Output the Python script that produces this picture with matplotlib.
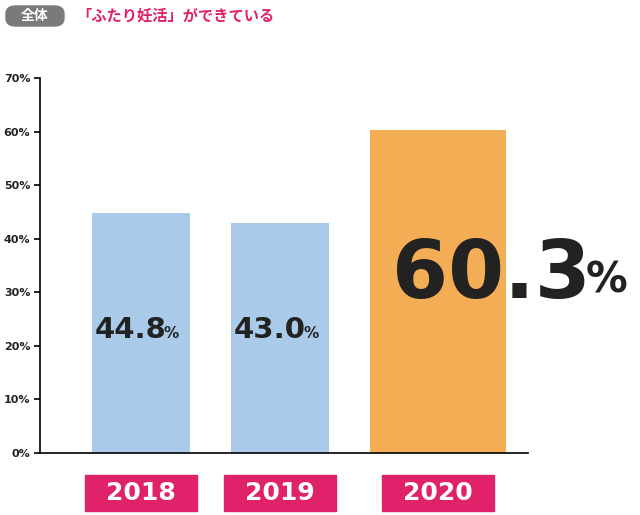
import matplotlib.pyplot as plt
from matplotlib.patches import FancyBboxPatch

years = ["2018", "2019", "2020"]
values = [44.8, 43.0, 60.3]
colors = ["#a9cbe9", "#a9cbe9", "#f3ae55"]
yticks = [0, 10, 20, 30, 40, 50, 60, 70]

PINK = "#e0226a"
NUM_FONT = "DejaVu Sans Condensed"
JP_FONT = "Noto Sans CJK JP"

fig = plt.figure(figsize=(6.4, 5.15), dpi=100)
ax = fig.add_axes([40 / 640, 1 - 453 / 515, 600 / 640, 375 / 515])
centers = [101, 240, 398]
widths = [98, 98, 136]
ax.bar(centers, values, width=widths, color=colors)
ax.set_xlim(0, 600)
ax.set_ylim(0, 70)
ax.set_yticks(yticks)
ax.set_yticklabels([f"{t}%" for t in yticks], fontsize=8, fontweight="bold", color="#222222")
ax.set_xticks([])
for s in ["top", "right"]:
    ax.spines[s].set_visible(False)
ax.spines["left"].set_linewidth(1.2)
ax.spines["bottom"].set_linewidth(1.2)
ax.spines["bottom"].set_bounds(0, 488)
ax.tick_params(axis="y", length=4, width=1.2, pad=3)

# value labels
for i, (c, v) in enumerate(zip(centers, values)):
    if i < 2:
        ax.text(c - 46, 23, f"{v:.1f}", ha="left", va="center", fontsize=21,
                fontfamily=NUM_FONT, fontweight="bold", color="#222222")
        ax.text(c + 23, 22.4, "%", ha="left", va="center", fontsize=11,
                fontfamily=NUM_FONT, fontweight="bold", color="#222222")
    else:
        ax.text(c - 46, 33, f"{v:.1f}", ha="left", va="center", fontsize=58,
                fontfamily=NUM_FONT, fontweight="bold", color="#222222")
        ax.text(c + 148, 32.2, "%", ha="left", va="center", fontsize=30,
                fontfamily=NUM_FONT, fontweight="bold", color="#222222")

# year boxes
for c, y in zip(centers, years):
    bw = 112
    x0 = (40 + c - bw / 2) / 640
    fig.patches.append(plt.Rectangle((x0, 1 - 511 / 515), bw / 640, 36 / 515,
                                     transform=fig.transFigure, color=PINK))
    fig.text((40 + c) / 640, 1 - 493 / 515, y, ha="center", va="center",
             fontsize=18, fontfamily=NUM_FONT, fontweight="bold", color="white")

# header
fig.patches.append(FancyBboxPatch((6 / 640, 1 - 26 / 515), 58 / 640, 20 / 515,
                                  boxstyle="round,pad=0,rounding_size=0.015",
                                  transform=fig.transFigure, color="#7a7a7a"))
fig.text(35 / 640, 1 - 16 / 515, "全体", ha="center", va="center", fontsize=10,
         fontfamily=JP_FONT, fontweight="bold", color="white")
fig.text(76 / 640, 1 - 16 / 515, "「ふたり妊活」ができている", ha="left", va="center",
         fontsize=11, fontfamily=JP_FONT, fontweight="bold", color=PINK)

fig.savefig("out.png", dpi=100)
